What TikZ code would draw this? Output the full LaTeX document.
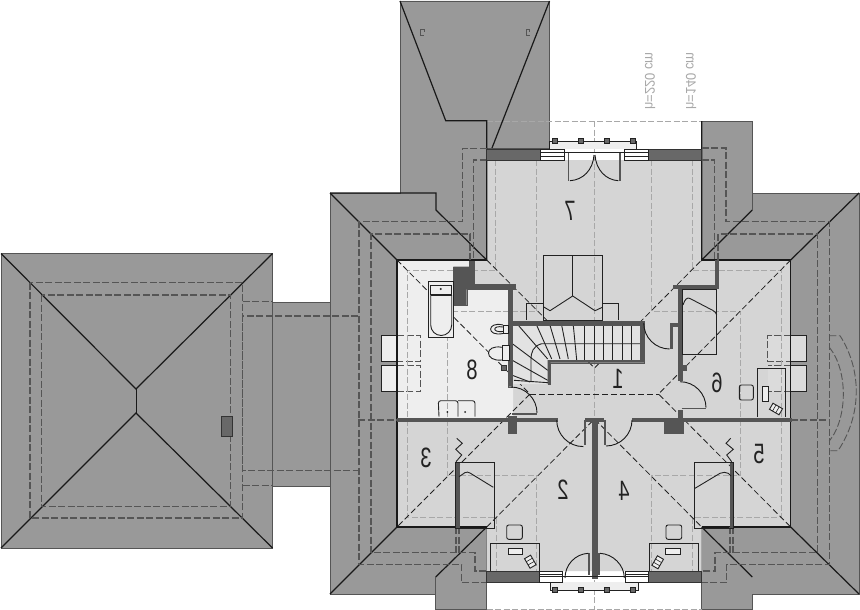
\documentclass[tikz,border=0pt]{standalone}
\usepackage{fontspec}
\setmainfont{Liberation Sans}
\definecolor{roofgray}{HTML}{999999}
\definecolor{roomgray}{HTML}{D5D5D5}
\definecolor{bathgray}{HTML}{EEEEEE}
\definecolor{wallgray}{HTML}{555555}
\definecolor{cutgray}{HTML}{686868}
\definecolor{planegray}{HTML}{A8A8A8}
\definecolor{inkgray}{HTML}{222222}
\tikzset{
  roofedge/.style={draw=wallgray, line width=0.9pt},
  hipline/.style={draw=black!90, line width=1.2pt},
  hipdash/.style={draw=inkgray, line width=0.8pt, dash pattern=on 6pt off 3pt},
  roofdash/.style={draw=wallgray, line width=1.1pt, dash pattern=on 7pt off 2.5pt},
  planedash/.style={draw=planegray, line width=1pt, dash pattern=on 6pt off 2.5pt},
  wallpart/.style={fill=wallgray, draw=wallgray, line width=0.4pt},
  cutwall/.style={fill=cutgray, draw=black!80, line width=0.7pt},
  furniture/.style={draw=inkgray, line width=0.9pt},
  doorleaf/.style={draw=wallgray, line width=1.6pt},
  doorarc/.style={draw=black!90, line width=0.9pt},
  postmark/.style={fill=cutgray, draw=inkgray, line width=0.7pt, minimum size=4.5pt, inner sep=0pt},
  roomno/.style={font=\fontsize{28}{28}\selectfont, text=inkgray, xscale=-0.72},
  heightno/.style={font=\fontsize{14}{14}\selectfont, text=planegray, xscale=-1, rotate=90, xscale=0.93},
}
\begin{document}
\begin{tikzpicture}[x=1pt, y=-1pt]
\useasboundingbox (0,0) rectangle (860,610);
\fill[white] (0,0) rectangle (860,610);

% Roof surfaces
\path[fill=roofgray, roofedge] (1,253.5) rectangle (272.5,548);
\path[fill=roofgray, roofedge] (272.5,302) rectangle (330,486);
\path[fill=roofgray, roofedge] (330,193) -- (400,193) -- (400,1) -- (549.5,1) -- (549.5,148) -- (486.7,148)
  -- (486.7,609) -- (435.7,609) -- (435.7,594) -- (330,594) -- cycle;
\path[fill=roofgray, roofedge] (701.7,121) -- (752.3,121) -- (752.3,193) -- (859,193) -- (859,594)
  -- (752.3,594) -- (752.3,609) -- (701.7,609) -- cycle;

% Floor of the rooms
\fill[roomgray] (397,260) -- (486.7,260) -- (486.7,160) -- (701.7,160) -- (701.7,260) -- (790.7,260)
  -- (790.7,527) -- (701.7,527) -- (701.7,571) -- (486.7,571) -- (486.7,527) -- (397,527) -- cycle;
\fill[bathgray] (397,260) -- (470,260) -- (470,285) -- (513,285) -- (513,418) -- (397,418) -- cycle;

% Skylights
\fill[bathgray] (381.7,335.7) rectangle (420.7,361);
\fill[bathgray] (381.7,365.7) rectangle (420.7,391.7);
\fill[roomgray!85!white] (767.7,335.7) rectangle (806,361);
\fill[roomgray!85!white] (767.7,365.7) rectangle (806,391.7);
\draw[furniture] (397,335.7) -- (381.7,335.7) -- (381.7,361) -- (397,361);
\draw[furniture] (397,365.7) -- (381.7,365.7) -- (381.7,391.7) -- (397,391.7);
\draw[furniture] (790.7,335.7) -- (806,335.7) -- (806,361) -- (790.7,361);
\draw[furniture] (790.7,365.7) -- (806,365.7) -- (806,391.7) -- (790.7,391.7);
\draw[roofdash, line width=0.9pt] (397,335.7) -- (420.7,335.7) -- (420.7,361) -- (397,361);
\draw[roofdash, line width=0.9pt] (397,365.7) -- (420.7,365.7) -- (420.7,391.7) -- (397,391.7);
\draw[roofdash, line width=0.9pt] (790.7,335.7) -- (767.7,335.7) -- (767.7,361) -- (790.7,361);
\draw[roofdash, line width=0.9pt] (790.7,365.7) -- (767.7,365.7);
\draw[roofdash, line width=0.9pt] (790.7,391.7) -- (767.7,391.7);

% Plane lines, light dashes
\draw[planedash] (486.7,121) -- (701.7,121);
\draw[planedash] (486.7,609) -- (701.7,609);
\draw[planedash] (594.5,121) -- (594.5,609);
\draw[planedash] (495.7,160) -- (495.7,270) -- (407,270) -- (407,517) -- (496,517) -- (496,571);
\draw[planedash] (692.7,160) -- (692.7,270) -- (781.7,270) -- (781.7,517) -- (692.7,517) -- (692.7,571);
\draw[planedash] (536.7,160) -- (536.7,311) -- (447.7,311) -- (447.7,475.7) -- (536.7,475.7) -- (536.7,571);
\draw[planedash] (651.7,160) -- (651.7,311) -- (740.7,311) -- (740.7,475.7) -- (651.7,475.7) -- (651.7,571);

% Roof lines of the garage
\draw[hipline] (1,253.5) -- (136,389) -- (272.5,253.5);
\draw[hipline] (1,548) -- (136,413) -- (272.5,548);
\draw[hipline, line width=0.9pt] (136,389) -- (136,413);
\draw[roofdash] (30,282.7) rectangle (242.7,518);
\draw[roofdash] (41.7,295) rectangle (230.7,506.7);
\path[cutwall] (221.7,416.7) rectangle (232.3,436.7);
\draw[roofdash] (242.7,301.7) -- (272.5,301.7);
\draw[roofdash] (242.7,485.7) -- (272.5,485.7);
\draw[roofdash] (358,316) -- (242.7,316) -- (242.7,470.7) -- (358,470.7);

% Roof lines of the house
\draw[hipline] (400,1) -- (445.7,120.7) -- (486.7,120.7) -- (486.7,260);
\draw[hipline] (549.5,1) -- (492,148);
\draw[hipline] (330,193) -- (397,260);
\draw[hipline] (330,193) -- (436,193) -- (436,210) -- (486.7,260);
\draw[hipline] (397,260) -- (486.7,260);
\draw[hipline] (397,260) -- (397,527) -- (486.7,527);
\draw[hipline] (330,594) -- (397,527);
\draw[hipline] (486.7,527) -- (435.7,577);
\draw[roofedge] (435.7,577) -- (435.7,609);
\draw[hipline] (701.7,121) -- (701.7,260) -- (752.3,210);
\draw[roofedge] (752.3,121) -- (752.3,210);
\draw[hipline] (859,193) -- (790.7,260);
\draw[hipline] (701.7,260) -- (790.7,260) -- (790.7,527) -- (701.7,527);
\draw[hipline] (859,594) -- (790.7,527);
\draw[hipline] (701.7,527) -- (752.3,577);
\draw[roofdash] (486.7,148.7) -- (462.3,148.7) -- (462.3,221.7) -- (359,221.7) -- (359,564.3) -- (461.7,564.3)
  -- (461.7,582.7) -- (486.7,582.7);
\draw[roofdash] (486.7,160) -- (473.3,160) -- (473.3,260);
\draw[roofdash] (470,260) -- (470,234) -- (371,234) -- (371,552.7) -- (475,552.7) -- (475,571) -- (486.7,571);
\draw[roofdash] (701.7,148) -- (726,148) -- (726,221.7) -- (829.3,221.7) -- (829.3,564.3) -- (726.7,564.3)
  -- (726.7,582.7) -- (701.7,582.7);
\draw[roofdash] (701.7,160) -- (714.7,160) -- (714.7,260);
\draw[roofdash] (718,260) -- (718,234) -- (817.7,234) -- (817.7,552.7) -- (715,552.7) -- (715,571) -- (701.7,571);
\draw[roofdash] (358,420) -- (397,420);
\draw[roofdash] (790.7,420) -- (829.3,420);
\draw[roofdash] (456,527) -- (456,552.7);
\draw[roofdash] (459,527) -- (459,552.7);
\draw[roofdash] (730,527) -- (730,552.7);
\draw[roofdash] (733,527) -- (733,552.7);
\draw[roofdash, line width=0.9pt] (829.3,335.7) -- (840,335.7) .. controls (862,370) and (862,415) .. (838,450.7) -- (829.3,450.7);
\draw[roofdash, line width=0.9pt] (829.3,347.3) .. controls (848,370) and (848,418) .. (829.3,441);

% Hip lines over the rooms
\draw[hipdash] (397,260) -- (530,394) -- (397,527);
\draw[hipdash] (530,394) -- (658.5,394);
\draw[hipdash] (790.7,260) -- (658.5,394) -- (790.7,527);
\draw[hipdash] (486.7,260) -- (594.5,368) -- (701.7,260);
\draw[hipdash] (486.7,527) -- (594.5,419) -- (701.7,527);

% Beds in room 7
\draw[furniture] (543.3,255) rectangle (602.3,320);
\draw[furniture] (572.7,255) -- (572.7,296);
\draw[furniture] (543.3,306.7) -- (550,310.7) -- (572.7,296) -- (595,310.7) -- (602.3,307.3);
\draw[furniture] (526.7,320) -- (526.7,303.3) -- (543.3,303.3);
\draw[furniture] (602.3,303.3) -- (618.3,303.3) -- (618.3,320);

% Stairs
\fill[roomgray!70!white] (512.3,325.3) -- (640,325.3) -- (640,360) -- (547.7,360) -- (547.7,384) -- (512.3,384) -- cycle;
\foreach \tx in {631,622,612.7,603.7,594,584.3} {
  \draw[furniture] (\tx,325.3) -- (\tx,360);
}
\draw[furniture] (573.3,325.3) -- (576.7,360);
\draw[furniture] (561.7,325.3) -- (568.3,359);
\draw[furniture] (550,325.3) -- (560,359);
\draw[furniture] (536.7,325.3) -- (551.7,359);
\draw[furniture] (518.3,325.3) -- (547.7,359);
\draw[furniture] (512.3,343.7) -- (547.7,370.3);
\draw[furniture] (512.3,360.3) -- (547.7,380.3);
\draw[furniture] (512.3,375.3) -- (530,382);
\draw[furniture] (514,380.3) -- (548.3,382.7);
\draw[furniture] (640,343.7) -- (541.7,343.7) .. controls (533,346) and (531,352) .. (531,360) -- (531,382);

% Walls
\path[wallpart] (453.3,266.7) -- (469.3,266.7) -- (469.3,261) -- (474,261) -- (474,284) -- (515,284) -- (515,289.3)
  -- (512.3,289.3) -- (512.3,321.3) -- (644,321.3) -- (644,362.7) -- (550.3,362.7) -- (550.3,384) -- (547.7,384)
  -- (547.7,360) -- (640,360) -- (640,325.3) -- (512.3,325.3) -- (512.3,386.7) -- (508,386.7) -- (508,289.3)
  -- (466.7,289.3) -- (466.7,305) -- (453.3,305) -- cycle;
\path[wallpart] (397,417.7) rectangle (556.7,421.3);
\path[wallpart] (631.7,418) rectangle (791,421.3);
\path[wallpart] (508.3,416) rectangle (516,432.7);
\path[wallpart] (664,421) rectangle (682.7,432.7);
\path[wallpart] (585,418) rectangle (603,421.5);
\path[wallpart] (591.7,418) rectangle (596.7,578);
\path[wallpart] (715,260) -- (718,260) -- (718,288.3) -- (682.3,288.3) -- (682.3,380) -- (678.3,380) -- (678.3,288.3)
  -- (673.3,288.3) -- (673.3,285) -- (715,285) -- cycle;
\path[wallpart] (678.3,410) rectangle (682.3,418);
\path[wallpart] (682.3,365) rectangle (686,370);
\path[wallpart] (670,323) -- (678.3,323) -- (678.3,326) -- (672,326) -- (672,348.5) -- (670,348.5) -- cycle;
\path[wallpart] (456,463) rectangle (459,527);
\path[wallpart] (730,463) rectangle (733,527);

% Cut walls and windows
\path[cutwall] (486.7,149) rectangle (540,160);
\path[cutwall] (648,149) rectangle (701.7,160);
\path[cutwall] (486.7,571) rectangle (539.3,582.3);
\path[cutwall] (648.3,571) rectangle (701.7,582.3);
\fill[bathgray] (549,141) rectangle (636.7,149);
\fill[bathgray] (550,582.3) rectangle (638.3,590);
\draw[furniture, fill=white] (540,149) rectangle (564.3,160);
\draw[furniture, fill=white] (624,149) rectangle (648,160);
\draw[furniture, fill=white] (539.3,571) rectangle (562.3,582.3);
\draw[furniture, fill=white] (625.7,571) rectangle (648.3,582.3);
\draw[furniture] (540,152.3) -- (648,152.3);
\draw[furniture] (540,156) -- (564.3,156);
\draw[furniture] (624,156) -- (648,156);
\draw[furniture] (539.3,576.7) -- (648.3,576.7);
\draw[furniture] (539.3,574.5) -- (562.3,574.5);
\draw[furniture] (625.7,574.5) -- (648.3,574.5);
\draw[furniture] (549.5,149) -- (549.5,141) -- (636.7,141) -- (636.7,149);
\draw[furniture] (550,582.3) -- (550,590) -- (638.3,590) -- (638.3,582.3);
\foreach \px in {555,581,606.7,632.7} {
  \node[postmark] (tp\px) at (\px,141) {};
  \node[postmark] (bp\px) at (\px,590) {};
}

% Doors
\draw[doorleaf] (568.3,153) -- (568.3,180.7);
\draw[doorleaf] (620,153) -- (620,180.7);
\draw[doorarc] (570,180.7) .. controls (583,180) and (593,170) .. (594,155);
\draw[doorarc] (618.3,180.7) .. controls (606,180) and (596,170) .. (595,155);
\draw[doorleaf] (511.7,413.7) -- (536.7,413.7);
\draw[doorarc] (511,387) arc[start angle=-90, end angle=0, radius=26];
\draw[doorleaf] (681.7,408.3) -- (706,408.3);
\draw[doorarc] (680,381.7) arc[start angle=-90, end angle=0, radius=26];
\draw[doorarc] (643.7,323) arc[start angle=180, end angle=90, radius=26];
\draw[doorleaf] (585,420) -- (585,445);
\draw[doorleaf] (604.7,420) -- (604.7,445);
\draw[doorarc] (556.7,420) arc[start angle=180, end angle=90, radius=26.6];
\draw[doorarc] (632,420) arc[start angle=0, end angle=90, radius=26];
\draw[doorleaf] (589.2,553.3) -- (589.2,575);
\draw[doorleaf] (599.2,553.3) -- (599.2,575);
\draw[doorarc] (588.3,553.3) .. controls (575,554) and (565,565) .. (565,578);
\draw[doorarc] (600,553.3) .. controls (613,554) and (624.3,565) .. (624.3,578);

% Bathroom
\draw[furniture, fill=bathgray] (428.3,281.7) rectangle (453.3,337.3);
\draw[furniture] (430.7,285) rectangle (451.7,294.3);
\fill[inkgray] (440.7,289) circle (1.2);
\draw[furniture] (430.7,295.5) -- (430.7,325) arc[start angle=180, end angle=0, radius=10.5] -- (451.7,295.5) -- cycle;
\draw[furniture, fill=bathgray] (503,325) .. controls (487,321) and (486,337) .. (503,333.5);
\draw[furniture] (503,327) .. controls (492,325) and (492,333) .. (503,331.5);
\draw[furniture, fill=bathgray] (503,325) rectangle (508,333.5);
\draw[furniture, fill=bathgray] (502,347.3) .. controls (484,344) and (484,362) .. (502,360);
\draw[furniture, fill=bathgray] (502.7,345.7) rectangle (509,360.7);
\path[cutwall] (501,365) rectangle (506.7,370);
\draw[furniture, rounded corners=2.5pt] (439,416.7) -- (438.3,400.7) -- (458,400.7) -- (458,416.7);
\draw[furniture, rounded corners=2.5pt] (458,400.7) -- (475,400.7) -- (475,416.7);
\fill[inkgray] (447.3,412) circle (1);
\fill[inkgray] (465,412) circle (1);

% Wardrobe and bed in room 6
\draw[furniture] (682.3,289.3) rectangle (716.7,354.3);
\draw[furniture] (683,305) .. controls (685,299) and (687,297) .. (690,298.5) -- (713,310.5) .. controls (715,311.5) and (716,313) .. (716.7,315);
\draw[furniture] (757.3,416.7) -- (757.3,368.3) -- (785,368.3) -- (785,416.7);
\draw[furniture, fill=bathgray] (762.3,386.7) rectangle (768.3,401);
\draw[furniture, rounded corners=2pt] (739.3,385) rectangle (753.3,400);
\begin{scope}[shift={(776,409)}, rotate=-30]
\draw[furniture, fill=bathgray] (-5.5,-3.5) rectangle (5.5,3.5);
\draw[furniture, line width=0.6pt] (-2,-3.5) -- (-2,3.5) (1.7,-3.5) -- (1.7,3.5);
\end{scope}

% Bed and desk in rooms 2 and 3
\draw[furniture] (455,462.7) rectangle (494,528);
\draw[furniture] (459,476.7) -- (465,472.6) .. controls (467,471.8) and (468,472) .. (470,473) -- (493.3,487.3);
\draw[furniture] (456.7,438.3) -- (462.3,443.3) -- (455.7,449.3) -- (461.7,455) -- (456,461.7);
\draw[furniture] (490,571) -- (490,543.3) -- (539.3,543.3) -- (539.3,571);
\draw[furniture, rounded corners=2pt] (506.7,525) rectangle (522.3,539.3);
\draw[furniture, fill=bathgray] (508.3,548.3) rectangle (522.7,554.3);
\begin{scope}[shift={(530.3,561.7)}, rotate=-60]
\draw[furniture, fill=bathgray] (-5.5,-3.5) rectangle (5.5,3.5);
\draw[furniture, line width=0.6pt] (-2,-3.5) -- (-2,3.5) (1.7,-3.5) -- (1.7,3.5);
\end{scope}

% Bed and desk in rooms 4 and 5
\draw[furniture] (694.3,462.7) rectangle (733.3,528);
\draw[furniture] (695,488.3) -- (720,473.3) .. controls (723,472) and (726,472) .. (728.3,473.3) -- (731,476);
\draw[furniture] (730.7,438.3) -- (726,443.3) -- (733.3,449.3) -- (726.7,455) -- (731.7,461.7);
\draw[furniture] (649,571) -- (649,543.3) -- (698.3,543.3) -- (698.3,571);
\draw[furniture, rounded corners=2pt] (666,525) rectangle (681.7,539.3);
\draw[furniture, fill=bathgray] (665,548.3) rectangle (680,554.3);
\begin{scope}[shift={(657.7,562.3)}, rotate=60]
\draw[furniture, fill=bathgray] (-5.5,-3.5) rectangle (5.5,3.5);
\draw[furniture, line width=0.6pt] (-2,-3.5) -- (-2,3.5) (1.7,-3.5) -- (1.7,3.5);
\end{scope}

% Two small marks on the north roof
\draw[wallgray, line width=0.8pt] (424,29.5) -- (420.5,29.5) -- (420.5,35.5) -- (424,35.5) (424,29.5) -- (424,32);
\draw[wallgray, line width=0.8pt] (529.5,29.5) -- (526,29.5) -- (526,35.5) -- (529.5,35.5) (529.5,29.5) -- (529.5,32);

% Add labels
\node[roomno] (room7) at (570,211) {7};
\node[roomno] (room1) at (618,379) {1};
\node[roomno] (room8) at (472,370) {8};
\node[roomno] (room6) at (717,383) {6};
\node[roomno] (room5) at (759,454) {5};
\node[roomno] (room3) at (426,458) {3};
\node[roomno] (room2) at (563,490) {2};
\node[roomno] (room4) at (624,491) {4};
\node[heightno] (h220) at (650,81) {h=220 cm};
\node[heightno] (h140) at (691,81) {h=140 cm};
\end{tikzpicture}
\end{document}
